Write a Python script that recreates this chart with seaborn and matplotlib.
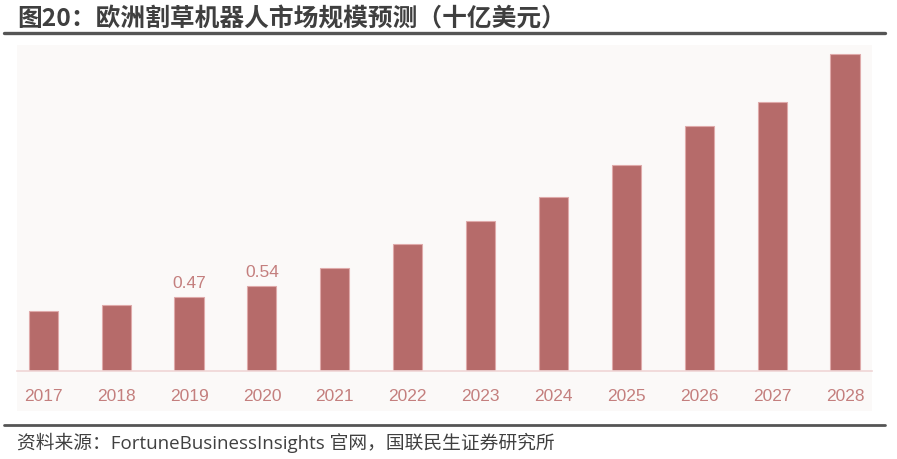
import matplotlib
matplotlib.use("Agg")
import matplotlib.pyplot as plt
import seaborn as sns
import pandas as pd
from matplotlib.patches import Rectangle
from matplotlib.lines import Line2D

# Europe robotic lawn mower market size (USD bn)
years = ['2017', '2018', '2019', '2020', '2021', '2022',
         '2023', '2024', '2025', '2026', '2027', '2028']
market_size = [0.38, 0.42, 0.47, 0.54, 0.65, 0.80,
               0.95, 1.10, 1.30, 1.55, 1.70, 2.00]
shown_labels = ['', '', '0.47', '0.54', '', '', '', '', '', '', '', '']

title = '图20：欧洲割草机器人市场规模预测（十亿美元）'
source = '资料来源：FortuneBusinessInsights 官网，国联民生证券研究所'

bar_color = '#b66b6a'
label_color = '#c47f7e'
bg_color = '#fbf9f8'

sns.set_style('white')
plt.rcParams['font.family'] = ['Liberation Sans', 'Noto Sans CJK SC', 'DejaVu Sans']

df = pd.DataFrame({'year': years, 'size': market_size})

W, H = 897, 460
fig = plt.figure(figsize=(W / 100, H / 100), dpi=100)

def fx(px):
    return px / W

def fy(py):
    return 1 - py / H

# light panel behind the plot
fig.patches.append(Rectangle((fx(17), fy(412)), fx(872) - fx(17), fy(46) - fy(412),
                             transform=fig.transFigure, facecolor=bg_color,
                             edgecolor='none', zorder=-5))

ax = fig.add_axes([fx(17), fy(372), fx(872) - fx(17), fy(46) - fy(372)])
ax.set_zorder(2)
ax.patch.set_alpha(0)

sns.barplot(data=df, x='year', y='size', color=bar_color, saturation=1,
            width=0.4, edgecolor='#dfaaaa', linewidth=0.8, ax=ax)

ax.bar_label(ax.containers[0], labels=shown_labels, padding=5,
             color=label_color, fontsize=12.5)

ax.set_xlim(-0.36, 11.37)
ax.set_ylim(0, 2.06)
ax.set_xlabel('')
ax.set_ylabel('')
ax.set_yticks([])
ax.tick_params(axis='x', length=0, pad=12.5, labelsize=12.5, labelcolor=label_color)
for side in ['top', 'right', 'left']:
    ax.spines[side].set_visible(False)
ax.spines['bottom'].set_color('#f0d6d6')
ax.spines['bottom'].set_linewidth(1.2)

# title and rules
fig.text(fx(17), fy(19), title, fontsize=17.8, fontweight='bold', color='#3f3f3f',
         family=['Noto Sans CJK SC', 'DejaVu Sans'], va='center', ha='left')
fig.add_artist(Line2D([fx(4), fx(885)], [fy(34), fy(34)], color='#555555',
                      linewidth=2.4, transform=fig.transFigure))
fig.add_artist(Line2D([fx(4), fx(885)], [fy(426), fy(426)], color='#555555',
                      linewidth=2.0, transform=fig.transFigure))
fig.text(fx(17), fy(443), source, fontsize=13.5, color='#404040',
         family=['Open Sans', 'Noto Sans CJK SC', 'DejaVu Sans'], va='center', ha='left')

fig.savefig('out.png', dpi=100, facecolor='white')
